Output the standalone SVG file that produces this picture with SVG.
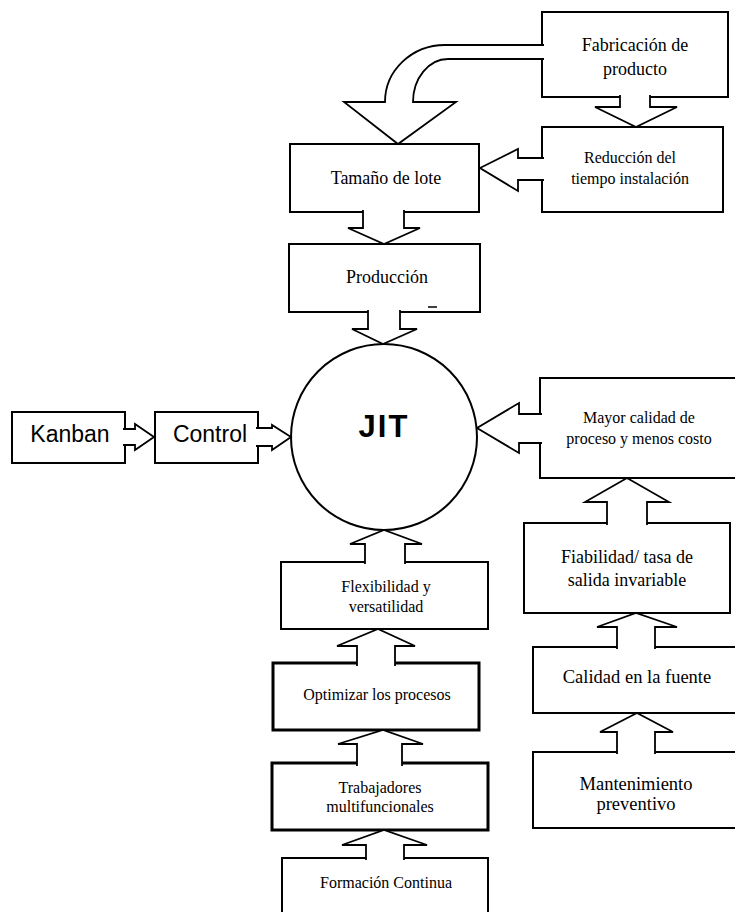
<svg xmlns="http://www.w3.org/2000/svg" width="735" height="912" viewBox="0 0 735 912">
<style>
  .box { fill: #fff; stroke: #000; stroke-width: 2; }
  .thick { stroke-width: 3; }
  .arr { fill: #fff; stroke: #000; stroke-width: 1.8; stroke-linejoin: miter; }
  .t { font-family: "Liberation Serif", "Times New Roman", serif; fill: #000; text-anchor: middle; }
  .s { font-family: "Liberation Sans", Arial, sans-serif; fill: #000; text-anchor: middle; }
</style>
<rect width="735" height="912" fill="#fff"/>

<g id="fabricacion">
  <rect class="box" x="542" y="12" width="186" height="85"/>
  <text class="t" x="635" y="51" font-size="18">Fabricación de</text>
  <text class="t" x="635" y="75" font-size="18">producto</text>
</g>
<g id="reduccion">
  <rect class="box" x="542" y="127" width="181" height="85"/>
  <text class="t" x="630" y="163" font-size="16">Reducción del</text>
  <text class="t" x="630" y="184" font-size="16">tiempo instalación</text>
</g>
<g id="tamano">
  <rect class="box" x="290" y="144" width="189" height="68"/>
  <text class="t" x="386" y="184" font-size="18">Tamaño de lote</text>
</g>
<g id="produccion">
  <rect class="box" x="289" y="244" width="191" height="68"/>
  <text class="t" x="387" y="283" font-size="18">Producción</text>
  <line x1="428" y1="307" x2="437" y2="307" stroke="#000" stroke-width="1.5"/>
</g>
<g id="jit">
  <circle cx="384" cy="437" r="93" fill="#fff" stroke="#000" stroke-width="2"/>
  <text class="s" x="384" y="437" font-size="31" font-weight="bold" letter-spacing="2">JIT</text>
</g>
<g id="kanban">
  <rect class="box" x="12" y="412" width="113" height="51"/>
  <text class="s" x="70" y="442" font-size="23">Kanban</text>
</g>
<g id="control">
  <rect class="box" x="155" y="412" width="103" height="51"/>
  <text class="s" x="210" y="442" font-size="23">Control</text>
</g>
<g id="mayor">
  <rect class="box" x="540" y="378" width="205" height="100"/>
  <text class="t" x="639" y="423" font-size="16">Mayor calidad de</text>
  <text class="t" x="639" y="444" font-size="16">proceso y menos costo</text>
</g>
<g id="fiabilidad">
  <rect class="box" x="524" y="523" width="206" height="90"/>
  <text class="t" x="627" y="563" font-size="18">Fiabilidad/ tasa de</text>
  <text class="t" x="627" y="586" font-size="18">salida invariable</text>
</g>
<g id="calidad">
  <rect class="box" x="533" y="647" width="212" height="66"/>
  <text class="t" x="637" y="683" font-size="18.5">Calidad en la fuente</text>
</g>
<g id="mantenimiento">
  <rect class="box" x="533" y="752" width="212" height="76"/>
  <text class="t" x="636" y="790" font-size="18.5">Mantenimiento</text>
  <text class="t" x="636" y="810" font-size="18.5">preventivo</text>
</g>
<g id="flexibilidad">
  <rect class="box" x="281" y="562" width="207" height="67"/>
  <text class="t" x="386" y="592" font-size="16">Flexibilidad y</text>
  <text class="t" x="386" y="612" font-size="16">versatilidad</text>
</g>
<g id="optimizar">
  <rect class="box thick" x="273" y="663" width="206" height="67"/>
  <text class="t" x="377" y="700" font-size="16">Optimizar los procesos</text>
</g>
<g id="trabajadores">
  <rect class="box thick" x="272" y="763" width="216" height="67"/>
  <text class="t" x="380" y="793" font-size="16">Trabajadores</text>
  <text class="t" x="380" y="812" font-size="16">multifuncionales</text>
</g>
<g id="formacion">
  <rect class="box" x="282" y="858" width="206" height="70"/>
  <text class="t" x="386" y="888" font-size="16">Formación Continua</text>
</g>

<g id="connectors">
  <path class="arr" d="M544,45 L445,45 A60,57 0 0 0 385,102 L344,102 L398,144 L456,102 L413,102 A35,43 0 0 1 448,59 L544,59"/>
  <polyline class="arr" points="620,95 620,107 595,107 636,127 677,107 650,107 650,95"/>
  <polyline class="arr" points="544,158 518,158 518,149 480,168 518,191 518,180 544,180"/>
  <polyline class="arr" points="363,210 363,228 348,228 384,244 420,228 404,228 404,210"/>
  <polyline class="arr" points="368,310 368,329 352,329 383,344 417,329 400,329 400,310"/>
  <polyline class="arr" points="123,429 135,429 135,424 154,437 135,450 135,445 123,445"/>
  <polyline class="arr" points="256,428 272,428 272,425 291,437 272,450 272,446 256,446"/>
  <polyline class="arr" points="542,414 519,414 519,403 477,428 519,453 519,443 542,443"/>
  <polyline class="arr" points="607,525 607,502 585,502 627,478 669,502 647,502 647,525"/>
  <polyline class="arr" points="617,649 617,627 597,627 636,613 677,627 655,627 655,649"/>
  <polyline class="arr" points="617,754 617,732 600,732 637,713 673,732 655,732 655,754"/>
  <polyline class="arr" points="365,564 365,544 350,544 384,530 422,544 405,544 405,564"/>
  <polyline class="arr" points="357,666 357,646 337,646 378,629 415,646 395,646 395,666"/>
  <polyline class="arr" points="357,766 357,744 338,744 383,730 423,744 402,744 402,766"/>
  <polyline class="arr" points="366,860 366,845 342,845 384,830 427,845 404,845 404,860"/>
</g>
</svg>
